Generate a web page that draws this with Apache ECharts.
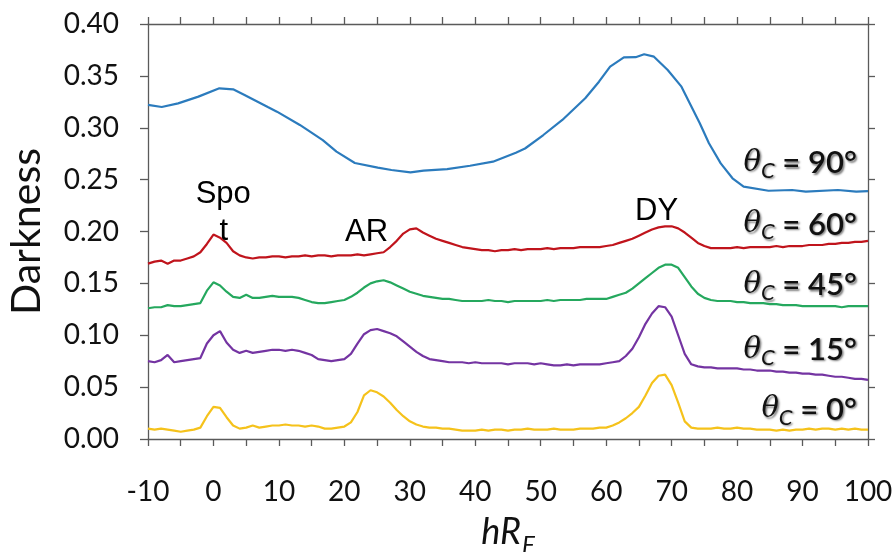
<!DOCTYPE html>
<html><head><meta charset="utf-8">
<script src="https://cdn.jsdelivr.net/npm/echarts@6/dist/echarts.min.js"></script>
<style>html,body{margin:0;padding:0;background:#fff}#c{width:894px;height:552px}</style>
</head><body><div id="c"></div>
<script>
// x positions (hRF) for the noisy traces, step 1
const xs = [];
for (let x = -10; x <= 100; x++) xs.push(x);

// theta_C = 90 deg (smooth trace), own x values
const x90 = [-10,-7.9,-5.4,-2.3,0.9,3.0,4.75,8.3,9.7,13.2,16.7,18.8,21.6,25.1,27.2,30.1,32.1,35.7,39.2,42.7,46.2,47.6,50.4,53.3,56.8,58.9,60.6,62.7,64.5,65.8,67.3,69.4,71.5,72.9,74.3,75.7,77.5,79.3,81,84.8,88.4,90.5,95.4,98.2,100];
const y90 = [0.322,0.320,0.3235,0.330,0.338,0.337,0.3316,0.320,0.3155,0.3027,0.288,0.277,0.266,0.2615,0.2593,0.257,0.2586,0.2602,0.2634,0.2673,0.276,0.280,0.293,0.3075,0.3284,0.3444,0.3589,0.3679,0.368,0.3708,0.3685,0.3557,0.3396,0.322,0.3043,0.285,0.2657,0.2513,0.2432,0.2393,0.240,0.2384,0.240,0.2384,0.239];

// theta_C = 60 deg
const y60 = [0.169,0.171,0.172,0.169,0.172,0.172,0.174,0.176,0.180,0.188,
 0.197,0.194,0.189,0.181,0.177,0.175,0.174,0.175,0.175,0.176,
 0.176,0.175,0.176,0.176,0.177,0.176,0.177,0.177,0.176,0.177,
 0.177,0.177,0.178,0.177,0.178,0.179,0.180,0.185,0.191,0.198,
 0.202,0.203,0.199,0.196,0.193,0.191,0.189,0.187,0.185,0.184,
 0.183,0.182,0.182,0.181,0.182,0.182,0.183,0.182,0.183,0.183,
 0.183,0.184,0.183,0.184,0.184,0.184,0.185,0.185,0.185,0.185,
 0.186,0.187,0.189,0.191,0.193,0.196,0.199,0.202,0.204,0.205,
 0.205,0.203,0.199,0.194,0.189,0.186,0.184,0.184,0.184,0.184,
 0.185,0.184,0.185,0.185,0.185,0.185,0.186,0.185,0.186,0.186,
 0.186,0.187,0.187,0.187,0.188,0.188,0.189,0.189,0.190,0.190,0.191];

// theta_C = 45 deg
const y45 = [0.126,0.127,0.127,0.129,0.128,0.128,0.129,0.130,0.131,0.143,
 0.151,0.148,0.142,0.137,0.136,0.139,0.136,0.136,0.137,0.138,
 0.137,0.137,0.137,0.136,0.134,0.132,0.131,0.131,0.132,0.133,
 0.134,0.137,0.141,0.146,0.150,0.152,0.153,0.151,0.148,0.145,
 0.142,0.140,0.138,0.137,0.136,0.135,0.135,0.134,0.133,0.133,
 0.133,0.133,0.134,0.133,0.133,0.132,0.133,0.133,0.133,0.133,
 0.133,0.134,0.133,0.134,0.134,0.134,0.134,0.135,0.135,0.135,
 0.135,0.137,0.139,0.141,0.145,0.150,0.155,0.160,0.165,0.168,
 0.168,0.165,0.156,0.147,0.140,0.136,0.134,0.133,0.133,0.133,
 0.132,0.132,0.131,0.131,0.131,0.130,0.130,0.129,0.129,0.129,
 0.128,0.128,0.128,0.128,0.128,0.128,0.127,0.128,0.128,0.128,0.128];

// theta_C = 15 deg
const y15 = [0.075,0.074,0.076,0.081,0.074,0.075,0.076,0.077,0.078,0.092,
 0.100,0.104,0.093,0.086,0.083,0.085,0.083,0.084,0.085,0.086,
 0.086,0.085,0.086,0.085,0.083,0.081,0.077,0.076,0.075,0.076,
 0.077,0.082,0.092,0.101,0.105,0.106,0.104,0.102,0.099,0.094,
 0.089,0.084,0.080,0.077,0.076,0.075,0.074,0.074,0.074,0.073,
 0.074,0.073,0.073,0.073,0.073,0.072,0.073,0.073,0.073,0.072,
 0.073,0.072,0.071,0.071,0.072,0.071,0.072,0.072,0.072,0.072,
 0.073,0.074,0.075,0.080,0.087,0.098,0.111,0.121,0.128,0.127,
 0.118,0.100,0.082,0.072,0.070,0.069,0.069,0.068,0.068,0.068,
 0.068,0.067,0.067,0.066,0.066,0.066,0.065,0.065,0.064,0.064,
 0.063,0.063,0.062,0.062,0.061,0.060,0.060,0.059,0.058,0.058,0.057];

// theta_C = 0 deg
const y0 = [0.010,0.009,0.010,0.009,0.008,0.007,0.008,0.009,0.011,0.022,
 0.031,0.030,0.021,0.013,0.010,0.011,0.013,0.011,0.012,0.013,
 0.013,0.014,0.013,0.013,0.012,0.013,0.012,0.010,0.010,0.011,
 0.012,0.016,0.026,0.042,0.047,0.045,0.041,0.035,0.028,0.022,
 0.017,0.014,0.012,0.011,0.011,0.010,0.010,0.009,0.008,0.008,
 0.008,0.009,0.008,0.009,0.009,0.008,0.009,0.009,0.010,0.009,
 0.009,0.009,0.010,0.009,0.009,0.009,0.010,0.010,0.010,0.011,
 0.011,0.013,0.016,0.020,0.025,0.031,0.042,0.054,0.061,0.062,
 0.052,0.035,0.017,0.011,0.010,0.010,0.010,0.011,0.010,0.010,
 0.011,0.010,0.010,0.009,0.009,0.009,0.008,0.009,0.008,0.009,
 0.009,0.010,0.009,0.010,0.010,0.009,0.010,0.009,0.010,0.009,0.009];

const yTicks = [0,0.05,0.10,0.15,0.20,0.25,0.30,0.35,0.40];
const xTicks = [-10,0,10,20,30,40,50,60,70,80,90,100];

// curve labels (theta_C) and peak annotations, in data coordinates
const curveLabels = [
  {deg: '90°', x: 98.3, y: 0.266},
  {deg: '60°', x: 98.3, y: 0.2065},
  {deg: '45°', x: 98.3, y: 0.148},
  {deg: '15°', x: 98.3, y: 0.0858},
  {deg: '0°',  x: 98.3, y: 0.028}
];
const peakNotes = [
  {text: 'Spo', x: 1.5, y: 0.236},
  {text: 't', x: 1.6, y: 0.200},
  {text: 'AR', x: 23.4, y: 0.1995},
  {text: 'DY', x: 67.7, y: 0.219}
];

const colors = {c90:'#2b7bbd', c60:'#c0141c', c45:'#25a85e', c15:'#7434a2', c0:'#f5c21b'};
const pair = (xa, ya) => xa.map((x, i) => [x, ya[i]]);
const lineSeries = (name, data, color) => ({
  name, type: 'line', data, showSymbol: false, symbol: 'none', smooth: false,
  lineStyle: {color, width: 2.2}, silent: true, z: 3
});

const chart = echarts.init(document.getElementById('c'), null, {renderer: 'canvas'});
const axisCol = '#5a5a5a';
const font = 'Lato';
const shadow = {textShadowColor: 'rgba(0,0,0,0.5)', textShadowBlur: 2, textShadowOffsetX: 1.5, textShadowOffsetY: 1.5};
chart.setOption({
  animation: false,
  backgroundColor: '#fff',
  grid: {left: 148, right: 26, top: 24, bottom: 113, containLabel: false, outerBoundsMode: 'none'},
  xAxis: [{
    type: 'value', min: -10, max: 100, interval: 10, position: 'bottom',
    axisLine: {show: true, onZero: false, lineStyle: {color: axisCol, width: 1.3}},
    axisTick: {show: true, length: 7, lineStyle: {color: axisCol, width: 1.3}},
    minorTick: {show: true, splitNumber: 2, length: 7, lineStyle: {color: axisCol, width: 1.3}},
    splitLine: {show: false},
    axisLabel: {fontFamily: font, fontSize: 28, color: '#111', margin: 39,
      formatter: v => xTicks.includes(v) ? String(v) : ''},
    name: '{i|hR}{s|F}', nameLocation: 'middle', nameGap: 68,
    nameTextStyle: {rich: {
      i: {fontFamily: font, fontStyle: 'italic', fontSize: 36, color: '#111'},
      s: {fontFamily: font, fontStyle: 'italic', fontSize: 24, color: '#111', padding: [26, 0, 0, 1]}
    }}
  }, {
    type: 'value', min: -10, max: 100, interval: 10, position: 'top',
    axisLine: {show: true, onZero: false, lineStyle: {color: axisCol, width: 1.3}},
    axisTick: {show: true, length: 7, lineStyle: {color: axisCol, width: 1.3}},
    minorTick: {show: true, splitNumber: 2, length: 7, lineStyle: {color: axisCol, width: 1.3}},
    splitLine: {show: false}, axisLabel: {show: false}
  }],
  yAxis: [{
    type: 'value', min: 0, max: 0.4, interval: 0.05, position: 'left',
    axisLine: {show: true, onZero: false, lineStyle: {color: axisCol, width: 1.3}},
    axisTick: {show: true, length: 8, lineStyle: {color: axisCol, width: 1.3}},
    splitLine: {show: false},
    axisLabel: {fontFamily: font, fontSize: 28, color: '#111', margin: 29,
      formatter: v => yTicks.some(t => Math.abs(t - v) < 1e-9) ? v.toFixed(2) : ''},
    name: 'Darkness', nameLocation: 'middle', nameGap: 101, nameRotate: 90,
    nameTextStyle: {fontFamily: font, fontSize: 41, color: '#111'}
  }, {
    type: 'value', min: 0, max: 0.4, interval: 0.05, position: 'right',
    axisLine: {show: true, onZero: false, lineStyle: {color: axisCol, width: 1.3}},
    axisTick: {show: true, length: 7, lineStyle: {color: axisCol, width: 1.3}},
    splitLine: {show: false}, axisLabel: {show: false}
  }],
  series: [
    lineSeries('θC = 90°', pair(x90, y90), colors.c90),
    lineSeries('θC = 60°', pair(xs, y60), colors.c60),
    lineSeries('θC = 45°', pair(xs, y45), colors.c45),
    lineSeries('θC = 15°', pair(xs, y15), colors.c15),
    lineSeries('θC = 0°', pair(xs, y0), colors.c0),
    {
      type: 'scatter', symbolSize: 0, silent: true, z: 5, itemStyle: {opacity: 1},
      data: curveLabels.map(d => ({value: [d.x, d.y], deg: d.deg})),
      label: {show: true, position: 'left', distance: 0,
        formatter: p => '{t|θ}{c|C}{n| = ' + p.data.deg + '}',
        rich: {
          t: Object.assign({fontFamily: 'DejaVu Serif', fontStyle: 'italic', fontSize: 29, color: '#111'}, shadow),
          c: Object.assign({fontFamily: font, fontStyle: 'italic', fontSize: 22, color: '#111', padding: [15, 0, 0, 0]}, shadow),
          n: Object.assign({fontFamily: font, fontWeight: 600, fontSize: 31, color: '#111'}, shadow)
        }}
    },
    {
      type: 'scatter', symbolSize: 0, silent: true, z: 6, itemStyle: {opacity: 1},
      data: peakNotes.map(d => ({value: [d.x, d.y], txt: d.text})),
      label: {show: true, position: 'inside', formatter: p => p.data.txt,
        fontFamily: 'Liberation Sans', fontSize: 31, color: '#000'}
    }
  ]
});
</script></body></html>
